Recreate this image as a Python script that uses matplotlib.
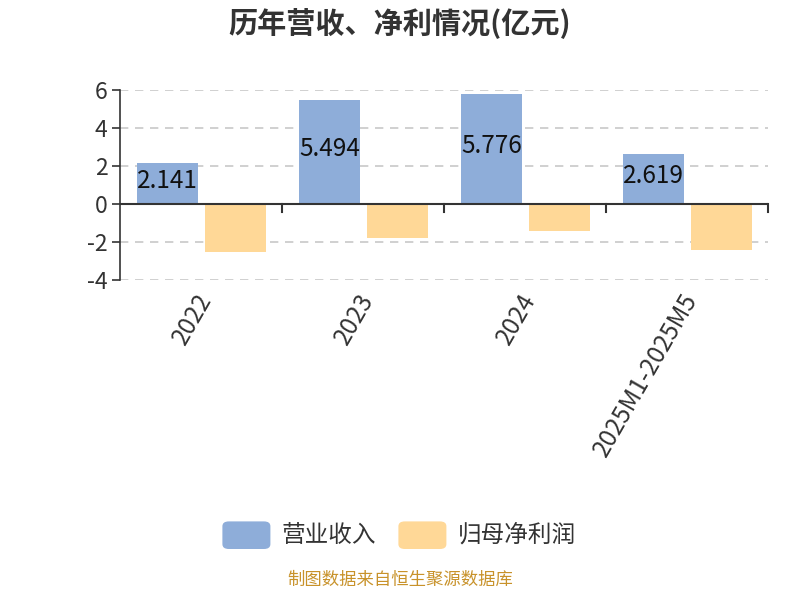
import numpy as np
import matplotlib.pyplot as plt
from matplotlib.patches import FancyBboxPatch

plt.rcParams['font.family'] = ['Noto Sans CJK SC', 'DejaVu Sans']

# data
categories = ['2022', '2023', '2024', '2025M1-2025M5']
revenue = [2.141, 5.494, 5.776, 2.619]
net_profit = [-2.51, -1.81, -1.44, -2.44]
yticks = [-4, -2, 0, 2, 4, 6]

blue = '#8EADD9'
orange = '#FFD897'
text_c = '#333333'

fig = plt.figure(figsize=(8, 6), dpi=100)
ax = fig.add_axes([0.15, 0.5333, 0.81, 0.3167])

x = np.arange(len(categories))
w = 0.377
ax.bar(x - 0.207, revenue, width=w, color=blue, zorder=3)
ax.bar(x + 0.213, net_profit, width=w, color=orange, zorder=3)

for xi, v in zip(x, revenue):
    ax.text(xi - 0.207, v / 2 + 0.15, f'{v:.3f}', ha='center', va='center',
            fontsize=17.5, color='#111111', zorder=4)

ax.set_xlim(-0.5, len(categories) - 0.5)
ax.set_ylim(-4, 6)
ax.set_yticks(yticks)
ax.set_yticklabels([str(t) for t in yticks], fontsize=16.5, color=text_c)
ax.tick_params(axis='y', length=6, width=1.2, color=text_c, pad=3)
ax.grid(axis='y', linestyle=(0, (5, 4)), color='#c8c8c8', linewidth=1.2, zorder=0)

for s in ['top', 'right', 'bottom']:
    ax.spines[s].set_visible(False)
ax.spines['left'].set_color(text_c)
ax.spines['left'].set_linewidth(1.2)

# zero line with category separators
ax.axhline(0, color=text_c, linewidth=1.5, zorder=5)
for b in np.arange(0.5, len(categories), 1.0):
    ax.plot([b, b], [0, -0.4], color=text_c, linewidth=1.5, zorder=5, clip_on=False)

ax.set_xticks(x)
ax.set_xticklabels([])
ax.tick_params(axis='x', length=0)
for xi, lab in zip(x, categories):
    ax.text(xi - 0.04, -4.45, lab, rotation=60, ha='right', va='top',
            rotation_mode='anchor', fontsize=17.5, color=text_c)

fig.text(0.5, 0.962, '历年营收、净利情况(亿元)', ha='center', va='center',
         fontsize=21, fontweight='bold', color=text_c)

# legend with rounded swatches
leg_y = 0.108
items = [(blue, '营业收入', 0.278), (orange, '归母净利润', 0.498)]
for col, lab, lx in items:
    fig.patches.append(FancyBboxPatch((lx, leg_y - 0.023), 0.06, 0.046,
                                      boxstyle='round,pad=0,rounding_size=0.008',
                                      transform=fig.transFigure, facecolor=col,
                                      edgecolor='none', figure=fig))
    fig.text(lx + 0.074, leg_y, lab, ha='left', va='center', fontsize=17, color=text_c)

fig.text(0.5, 0.018, '制图数据来自恒生聚源数据库', ha='center', va='bottom',
         fontsize=12.5, color='#C8922A')

fig.savefig('out.png', dpi=100)
